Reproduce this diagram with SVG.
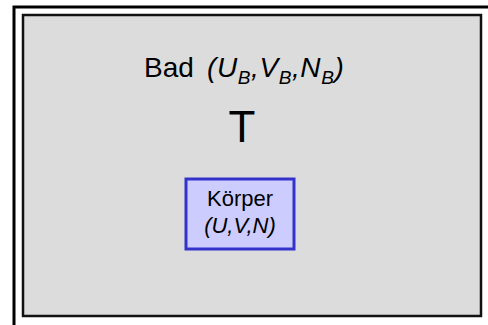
<svg xmlns="http://www.w3.org/2000/svg" width="488" height="325" viewBox="0 0 488 325">
<style>
text{font-family:"Liberation Sans",Arial,sans-serif;fill:#000}
.it{font-style:italic}
.sub{font-size:19px}
</style>
<rect width="488" height="325" fill="#fff"/>
<g id="frame">
<path d="M14,325 V7 H488" fill="none" stroke="#000" stroke-width="3"/>
</g>
<g id="bad">
<rect x="23" y="15" width="458" height="301" fill="#dcdcdc" stroke="#111" stroke-width="2.5"/>
<text x="144" y="77" font-size="28">Bad</text>
<text x="207" y="77" font-size="28" class="it" letter-spacing="0.6">(U<tspan class="sub" dy="7">B</tspan><tspan dy="-7">,V</tspan><tspan class="sub" dy="7">B</tspan><tspan dy="-7">,N</tspan><tspan class="sub" dy="7">B</tspan><tspan dy="-7">)</tspan></text>
<text x="242" y="142" font-size="44" text-anchor="middle">T</text>
</g>
<g id="koerper">
<rect x="186" y="179" width="108" height="70" fill="#ccccff" stroke="#3333cc" stroke-width="3"/>
<text x="240" y="206" font-size="22" text-anchor="middle">Körper</text>
<text x="240" y="233" font-size="22" text-anchor="middle" class="it">(U,V,N)</text>
</g>
<g id="connectors"/>
</svg>
